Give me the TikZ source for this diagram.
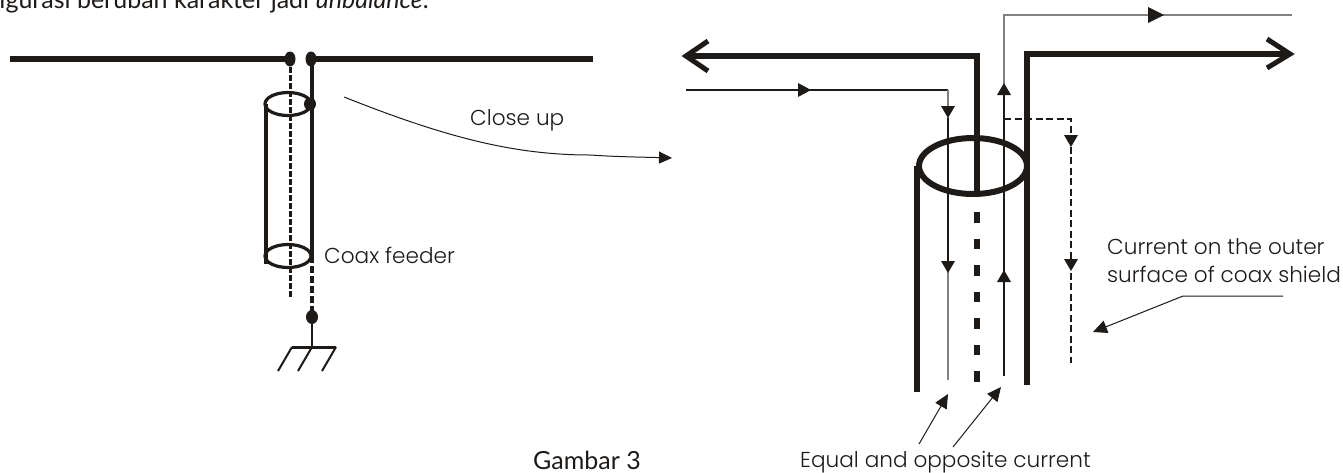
\documentclass[tikz,border=0pt]{standalone}
\usepackage{fontspec}
\setmainfont{Poppins Light}
\newfontfamily\gill{Lato}
\usetikzlibrary{arrows.meta,shapes.geometric}
\definecolor{ink}{HTML}{1E1A18}
\tikzset{x=1pt,y=-1pt,
 thick line/.style={draw=ink,line width=6pt},
 wire/.style={draw=ink,line width=4pt},
 shell/.style={draw=ink,line width=3.2pt},
 thin line/.style={draw=ink,line width=1.3pt},
 grey line/.style={draw=ink!55,line width=1.3pt},
 dashthin/.style={draw=ink,line width=1.5pt,dash pattern=on 7pt off 3.5pt},
 dashwire/.style={draw=ink,line width=4pt,dash pattern=on 7pt off 3pt},
 dashinner/.style={draw=ink,line width=3pt,dash pattern=on 5.5pt off 2.5pt},
 dashthick/.style={draw=ink,line width=6pt,dash pattern=on 10.5pt off 16pt},
 dotmark/.style={fill=ink,ellipse,inner sep=0pt,minimum width=11pt,minimum height=15pt},
 label/.style={font=\fontsize{21.6}{24}\selectfont\color{ink},inner sep=0pt,anchor=base west},
 gambar/.style={font=\gill\fontsize{25}{28}\selectfont\color{ink},inner sep=0pt,anchor=base west},
 tri/.style={fill=ink,draw=none},
 leader/.style={draw=ink,line width=1pt,-{Triangle[length=14pt,width=13pt]}},
}
\begin{document}
\begin{tikzpicture}
\useasboundingbox (0,0) rectangle (1343,472);
\clip (0,0) rectangle (1343,472);
\node[gambar] (intro) at (-9,8) {figurasi berubah karakter jadi \textit{unbalance}.};
\coordinate (al) at (10,59); \coordinate (ar) at (593,59);
\coordinate (dl) at (290,59); \coordinate (dr) at (311,59);
\draw[thick line] (al) -- (dl);
\draw[thick line] (dr) -- (ar);
\node[dotmark] (d1) at (dl) {};
\node[dotmark] (d2) at (dr) {};
\coordinate (dlb) at (290,298);
\draw[dashinner] (dl) -- (dlb);
\coordinate (sb) at (312,256);
\draw[wire] (312,59) -- (sb);
\coordinate (gnd) at (312,317);
\draw[dashwire] (sb) -- (gnd);
\node[dotmark,minimum width=12pt,minimum height=13pt] (d3) at (310,104) {};
\node[dotmark,minimum width=12pt,minimum height=14pt] (d4) at (gnd) {};
\draw[shell] (288,104) ellipse [x radius=23,y radius=11.5];
\draw[shell] (288,256) ellipse [x radius=23,y radius=11.5];
\draw[shell] (266,104) -- (266,264);
\coordinate (g0) at (312,347);
\draw[draw=ink,line width=2pt] (gnd) -- (g0);
\draw[draw=ink,line width=3pt] (292,347) -- (336,347);
\draw[draw=ink,line width=2pt] (292,347) -- (278,371);
\draw[draw=ink,line width=2pt] (312,347) -- (298,371);
\draw[draw=ink,line width=2pt] (336,347) -- (322,371);
\node[label] (cu) at (470,125) {Close up};
\node[label] (cf) at (324,263) {Coax feeder};
\coordinate (c0) at (344,97); \coordinate (c1) at (672,158);
\draw[draw=ink,line width=1pt,-{Triangle[length=13pt,width=12pt]}] (c0) .. controls (440,135) and (510,155) .. (590,155) .. controls (620,157) and (640,157) .. (c1);
\draw[thick line] (977,193) -- (977,56) -- (690,56);
\draw[thick line,line width=5pt] (708,41) -- (686,56) -- (708,71);
\draw[thick line] (1027,385) -- (1027,54) -- (1288,54);
\draw[thick line,line width=5pt] (1267,39) -- (1290,54) -- (1267,68);
\draw[thick line] (973,166) ellipse [x radius=54,y radius=28];
\draw[thick line] (917,166) -- (917,392);
\draw[dashthick] (977,212) -- (977,390);
\draw[thin line] (686,90) -- (948,90);
\draw[grey line] (948,90) -- (948,118);
\draw[thin line] (948,118) -- (948,270);
\draw[grey line] (948,270) -- (948,380);
\path[tri] (798,83) -- (811,90) -- (798,97) -- cycle;
\path[tri] (941,106) -- (955,106) -- (948,118) -- cycle;
\path[tri] (941,261) -- (955,261) -- (948,273) -- cycle;
\draw[thin line] (1004,376) -- (1004,90);
\draw[grey line] (1004,90) -- (1004,15) -- (1292,15);
\path[tri] (997,95) -- (1004,83) -- (1011,95) -- cycle;
\path[tri] (997,282) -- (1004,270) -- (1011,282) -- cycle;
\path[tri] (1148,7) -- (1164,15) -- (1148,23) -- cycle;
\draw[dashthin] (1004,119) -- (1071,119) -- (1071,363);
\path[tri] (1064,135) -- (1078,135) -- (1071,147) -- cycle;
\path[tri] (1064,259) -- (1078,259) -- (1071,271) -- cycle;
\node[label] (l1) at (1107,254) {Current on the outer};
\node[label] (l2) at (1107,282) {surface of coax shield};
\node[label] (eq) at (800,467) {Equal and opposite current};
\node[gambar] (gb) at (533,469) {Gambar 3};
\coordinate (lead) at (1283,296); \coordinate (lead2) at (1183,296); \coordinate (leadt) at (1093,332);
\draw[leader] (lead) -- (lead2) -- (leadt);
\coordinate (e1) at (919,444); \coordinate (e1t) at (948,394);
\coordinate (e2) at (953,447); \coordinate (e2t) at (1001,387);
\draw[leader] (e1) -- (e1t);
\draw[leader] (e2) -- (e2t);
\end{tikzpicture}
\end{document}
